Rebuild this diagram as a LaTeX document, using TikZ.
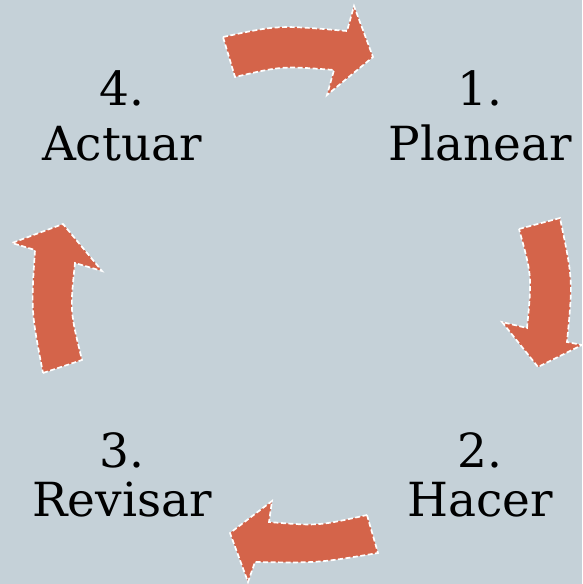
\documentclass[tikz,border=0pt]{standalone}
\usepackage{fontspec}
\setmainfont{DejaVu Serif}
\definecolor{bgc}{RGB}{197,209,216}
\definecolor{arrc}{RGB}{212,100,74}
\begin{document}
\begin{tikzpicture}[x=1pt,y=-1pt,
  blockarrow/.style={fill=arrc,draw=white,line width=1.7pt,dash pattern=on 5pt off 2.5pt,line join=miter},
  lbl/.style={anchor=base,inner sep=0pt,font=\fontsize{47}{50}\selectfont,text=black}]
\fill[bgc] (0,0) rectangle (582,584);
\useasboundingbox (0,0) rectangle (582,584);
% top arrow
\draw[blockarrow] (223,37) .. controls (278,25) .. (347,31) -- (354,6) -- (373,57) -- (327,95) -- (334,70) .. controls (282,66) .. (235,77) -- cycle;
% right arrow
\draw[blockarrow] (519,229) -- (560,218) .. controls (573,280) .. (567,342) -- (582,345) -- (538,367) -- (502,322) -- (527,328) .. controls (532,276) .. cycle;
% bottom arrow
\draw[blockarrow] (367,515) -- (378,553) .. controls (318,563) .. (255,562) -- (248,582) -- (230,533) -- (272,501) -- (269,522) .. controls (318,526) .. cycle;
% left arrow
\draw[blockarrow] (43,373) -- (82,360) .. controls (70,311) .. (75,263) -- (102,271) -- (63,224) -- (12,243) -- (35,250) .. controls (31,311) .. cycle;
% labels
\node[lbl] (n1) at (480,105) {1.};
\node[lbl] (w1) at (480,160) {Planear};
\node[lbl] (n2) at (480,467) {2.};
\node[lbl] (w2) at (480,516) {Hacer};
\node[lbl] (n3) at (122,467) {3.};
\node[lbl] (w3) at (122,516) {Revisar};
\node[lbl] (n4) at (122,105) {4.};
\node[lbl] (w4) at (122,160) {Actuar};
\end{tikzpicture}
\end{document}
